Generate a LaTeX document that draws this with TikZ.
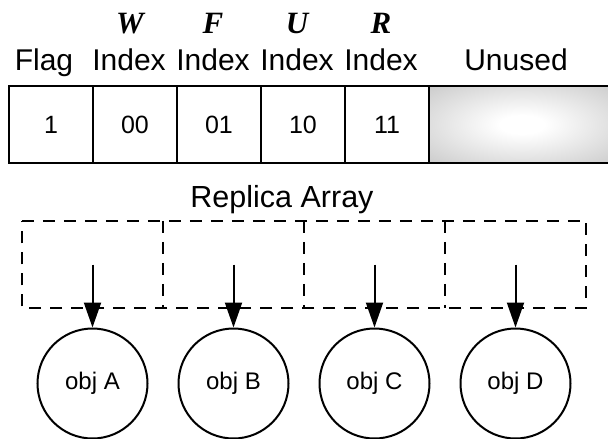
\documentclass[tikz,border=0pt]{standalone}
\usepackage{fontspec}
\setmainfont{Liberation Sans}
\newfontfamily\labelserif{Liberation Serif}
\usetikzlibrary{arrows.meta}
\pgfdeclareradialshading{unusedshade}{\pgfpoint{0bp}{0bp}}{color(0bp)=(white); color(6bp)=(white); color(50bp)=(black!30)}
\begin{document}
\begin{tikzpicture}[x=1pt,y=-1pt,
  cell/.style={draw, line width=2.5pt, minimum width=84pt, minimum height=77pt, inner sep=0pt, font=\fontsize{25}{25}\selectfont},
  unusedcell/.style={draw, line width=2.5pt, minimum width=186pt, minimum height=77pt, inner sep=0pt, shading=unusedshade},
  hdr/.style={anchor=base, inner sep=0pt, font=\fontsize{30}{30}\selectfont},
  letter/.style={anchor=base, inner sep=0pt, font=\fontsize{31}{31}\selectfont\labelserif\bfseries\itshape},
  slot/.style={minimum width=141pt, minimum height=87pt, inner sep=0pt},
  dashline/.style={line width=2pt, dash pattern=on 12pt off 9pt},
  obj/.style={draw, circle, line width=2pt, minimum size=110pt, inner sep=0pt, font=\fontsize{24}{24}\selectfont},
  ptr/.style={line width=2pt, -{Triangle[length=25pt,width=17pt]}}
]
\useasboundingbox (0,0) rectangle (608,439);
\clip (0,0) rectangle (608,439);

% top labels
\node[letter] (lw) at (130,33) {W};
\node[letter] (lf) at (213,33) {F};
\node[letter] (lu) at (297,33) {U};
\node[letter] (lr) at (381,33) {R};

\node[hdr] (hflag) at (44,70) {Flag};
\node[hdr] (hw) at (129,70) {Index};
\node[hdr] (hf) at (213,70) {Index};
\node[hdr] (hu) at (297,70) {Index};
\node[hdr] (hr) at (381,70) {Index};
\node[hdr] (hunused) at (516,70) {Unused};

% header word cells
\node[unusedcell] (cunused) at (522,124.5) {};
\node[cell] (c1) at (51,124.5) {1};
\node[cell] (c2) at (135,124.5) {00};
\node[cell] (c3) at (219,124.5) {01};
\node[cell] (c4) at (303,124.5) {10};
\node[cell] (c5) at (387,124.5) {11};

% replica array
\node[hdr, font=\fontsize{30.5}{30.5}\selectfont] (title) at (282,207) {Replica Array};
\node[slot] (s1) at (92.5,264.5) {};
\node[slot] (s2) at (233.5,264.5) {};
\node[slot] (s3) at (374.5,264.5) {};
\node[slot] (s4) at (515.5,264.5) {};
\draw[dashline] (s1.north west) -- (s4.north east) -- (s4.south east) -- (s1.south west) -- cycle;
\draw[dashline] (s1.north east) -- (s1.south east);
\draw[dashline] (s2.north east) -- (s2.south east);
\draw[dashline] (s3.north east) -- (s3.south east);

% objects
\node[obj] (oA) at (92.5,383.5) {obj A};
\node[obj] (oB) at (233.5,383.5) {obj B};
\node[obj] (oC) at (374.5,383.5) {obj C};
\node[obj] (oD) at (515.5,383.5) {obj D};

\draw[ptr] (s1.center) -- (oA.north);
\draw[ptr] (s2.center) -- (oB.north);
\draw[ptr] (s3.center) -- (oC.north);
\draw[ptr] (s4.center) -- (oD.north);
\end{tikzpicture}
\end{document}
